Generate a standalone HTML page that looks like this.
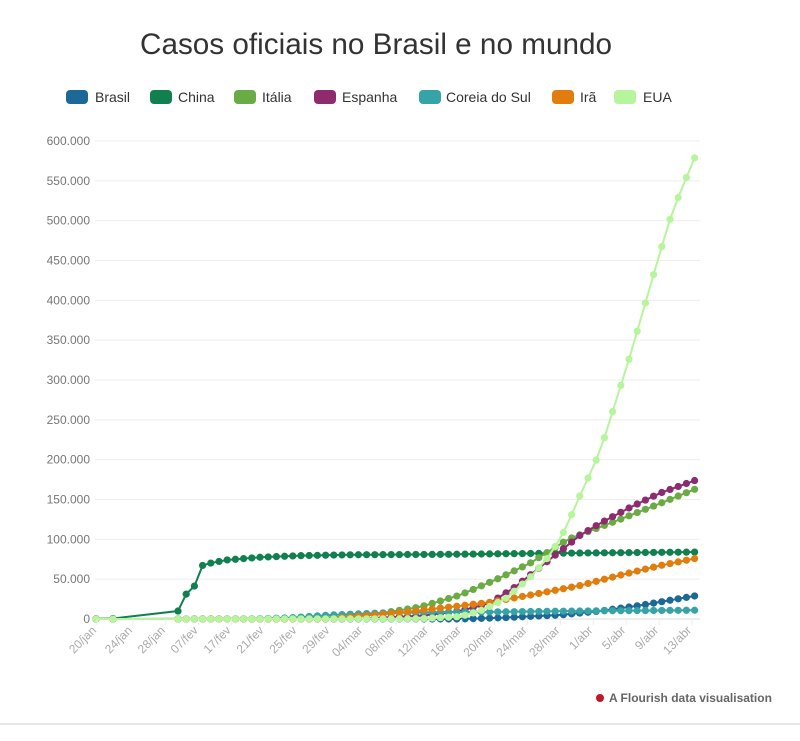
<!DOCTYPE html>
<html><head><meta charset="utf-8"><style>
body{margin:0;background:#fff;width:800px;height:736px;overflow:hidden;font-family:"Liberation Sans",sans-serif;}
</style></head><body>
<svg id="s" width="800" height="736" xmlns="http://www.w3.org/2000/svg">
<text x="376" y="54" text-anchor="middle" font-size="29.5" fill="#333" textLength="472" lengthAdjust="spacingAndGlyphs">Casos oficiais no Brasil e no mundo</text>
<g id="leg" font-size="14" fill="#333"></g>
<g id="grid"></g>
<g id="series"></g>
<g id="xl" font-size="12" fill="#aaa"></g>
<circle cx="600" cy="698" r="4" fill="#c0182a"/>
<text x="609" y="702" font-size="12" font-weight="bold" fill="#666">A Flourish data visualisation</text>
<line x1="0" y1="724" x2="800" y2="724" stroke="#ddd" stroke-width="1.5"/>
</svg>
<script>
const NS="http://www.w3.org/2000/svg";
function el(t,a,p){const e=document.createElementNS(NS,t);for(const k in a)e.setAttribute(k,a[k]);p.appendChild(e);return e;}
const Y0=619,K=478/600000;const y=v=>Y0-v*K;
const grid=document.getElementById('grid');
for(let i=0;i<=12;i++){const v=i*50000;const yy=y(v);
 el('line',{x1:95,x2:700,y1:yy,y2:yy,stroke:i==0?'#ddd':'#eee','stroke-width':1},grid);
 const t=el('text',{x:90,y:yy+4,'text-anchor':'end','font-size':12,fill:'#777'},grid);
 t.textContent=i==0?'0':(v/1000).toFixed(0)+'.000';}
const cols={Brasil:'#1c6896',China:'#11804f',Itália:'#6aab45',Espanha:'#8e2b6f','Coreia do Sul':'#36a3a6',Irã:'#e17d0c',EUA:'#b6f59c'};
const lx=[[66,95],[150,178],[234,262],[314,342],[419,446],[552,580],[614,643]];
const leg=document.getElementById('leg');let i=0;
for(const n in cols){el('rect',{x:lx[i][0],y:90,width:22,height:14,rx:4,fill:cols[n]},leg);
 const t=el('text',{x:lx[i][1],y:102},leg);t.textContent=n;i++;}
const xs=[96,113];for(let k=0;k<64;k++)xs.push(178+k*8.2);
function interp(kf,x){if(x<=kf[0][0])return kf[0][1];for(let j=1;j<kf.length;j++){if(x<=kf[j][0]){const a=kf[j-1],b=kf[j];return a[1]+(b[1]-a[1])*(x-a[0])/(b[0]-a[0]);}}return kf[kf.length-1][1];}
const data={
Brasil:[[96,0],[460,0],[500,1500],[560,5000],[600,10000],[640,17000],[695,29000]],
China:[[96,300],[113,600],[178,10000],[186,31000],[194,40000],[202,67000],[210,70000],[226,74000],[260,77500],[300,79500],[350,80600],[450,81200],[550,82500],[695,84000]],
Itália:[[96,0],[290,300],[340,2500],[380,7000],[420,15000],[460,30000],[497,50000],[530,70000],[568,100000],[620,125000],[660,145000],[695,163000]],
Espanha:[[96,0],[360,300],[420,4000],[460,10000],[490,20000],[515,40000],[540,65000],[560,85000],[580,105000],[600,120000],[630,140000],[660,158000],[695,174000]],
'Coreia do Sul':[[96,0],[250,100],[290,1500],[330,5000],[380,7500],[430,8500],[500,9000],[600,10300],[695,11000]],
Irã:[[96,0],[330,0],[340,1500],[400,8000],[450,15000],[490,21000],[530,30000],[580,42000],[620,55000],[660,67000],[695,76000]],
EUA:[[96,0],[420,300],[460,3000],[480,10000],[505,25000],[530,52000],[550,80000],[565,112000],[580,155000],[600,210000],[615,270000],[630,330000],[645,395000],[660,460000],[672,510000],[685,550000],[695,580000]]};
const sg=document.getElementById('series');
for(const n in cols){const pts=xs.map(x=>[x,y(interp(data[n],x))]);
 el('polyline',{points:pts.map(p=>p.join(',')).join(' '),fill:'none',stroke:cols[n],'stroke-width':2},sg);
 pts.forEach(p=>el('circle',{cx:p[0],cy:p[1],r:3.6,fill:cols[n]},sg));}
const labs=['20/jan','24/jan','28/jan','07/fev','17/fev','21/fev','25/fev','29/fev','04/mar','08/mar','12/mar','16/mar','20/mar','24/mar','28/mar','1/abr','5/abr','9/abr','13/abr'];
const xl=document.getElementById('xl');
labs.forEach((l,k)=>{const x=97+k*(592/18)+ (k>0?3:0);
 el('line',{x1:x,x2:x,y1:619,y2:625,stroke:'#eee'},xl);
 const t=el('text',{x:x,y:631,'text-anchor':'end',transform:`rotate(-45 ${x} 631)`},xl);t.textContent=l;});
</script>
</body></html>
